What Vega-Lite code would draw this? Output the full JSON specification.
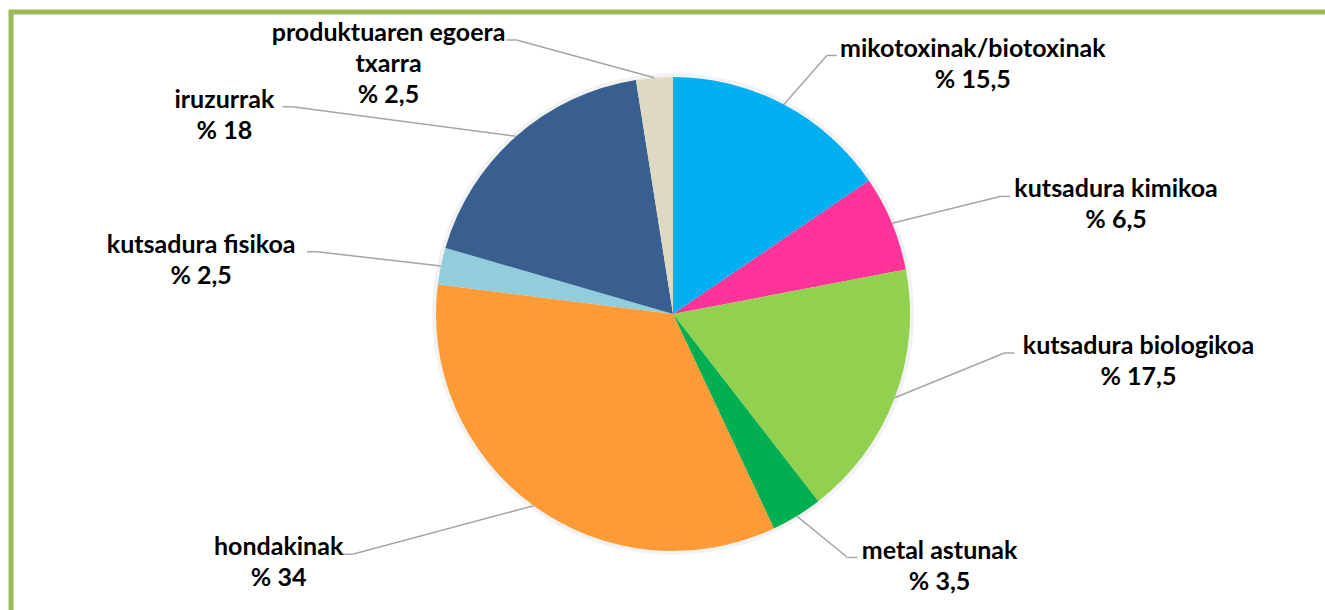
{
  "$schema": "https://vega.github.io/schema/vega-lite/v6.json",
  "width": 1324,
  "height": 604,
  "autosize": {"type": "none"},
  "padding": {"left": 11, "top": 12, "right": 0, "bottom": 0},
  "background": "white",
  "config": {"view": {"stroke": "#9BBB59", "strokeWidth": 5}},
  "data": {
    "values": [
      {"name": "mikotoxinak/biotoxinak", "value": 15.5, "order": 1},
      {"name": "kutsadura kimikoa", "value": 6.5, "order": 2},
      {"name": "kutsadura biologikoa", "value": 17.5, "order": 3},
      {"name": "metal astunak", "value": 3.5, "order": 4},
      {"name": "hondakinak", "value": 34, "order": 5},
      {"name": "kutsadura fisikoa", "value": 2.5, "order": 6},
      {"name": "iruzurrak", "value": 18, "order": 7},
      {"name": "produktuaren egoera\ntxarra", "value": 2.5, "order": 8}
    ]
  },
  "transform": [
    {"joinaggregate": [{"op": "sum", "field": "value", "as": "total"}]},
    {"window": [{"op": "sum", "field": "value", "as": "cum"}], "sort": [{"field": "order"}], "frame": [null, 0]},
    {"calculate": "2*PI*(datum.cum - datum.value/2)/datum.total", "as": "ang"},
    {"calculate": "sin(datum.ang)", "as": "s"},
    {"calculate": "cos(datum.ang)", "as": "c"},
    {"calculate": "datum.s < 0 ? -1 : 1", "as": "sg"},
    {"calculate": "abs(datum.s)", "as": "as"},
    {"calculate": "'% ' + replace(toString(datum.value), '.', ',')", "as": "pct"},
    {"calculate": "datum.name + '\\n' + datum.pct", "as": "txt"},
    {"calculate": "length(split(datum.txt, '\\n'))", "as": "nl"},
    {"calculate": "6*length(split(datum.name, '\\n')[0])", "as": "hw"},
    {"calculate": "datum.sg > 0 ? (380*datum.as - 10 + datum.hw) : -(227*datum.as + 121 + 100*datum.as*max(datum.c, 0) + 330*datum.as*(1 - datum.as) + datum.hw)", "as": "lx"},
    {"calculate": "datum.c >= 0 ? max(-(datum.sg > 0 ? 285 : 265)*datum.c, -250) : min(380*datum.c*datum.c, 252)", "as": "ly"},
    {"calculate": "datum.ly - (datum.nl - 1)*15.5", "as": "ty"},
    {"calculate": "datum.lx - datum.sg*(datum.hw + 4)", "as": "ex"},
    {"calculate": "datum.ty + 7", "as": "ey"},
    {"calculate": "datum.ex - datum.sg*10", "as": "bx"},
    {"calculate": "237*datum.s", "as": "px"},
    {"calculate": "-237*datum.c", "as": "py"}
  ],
  "layer": [
    {
      "mark": {"type": "arc", "outerRadius": 241, "fill": "#000000", "opacity": 0.05},
      "encoding": {
        "theta": {"field": "value", "type": "quantitative", "stack": true},
        "order": {"field": "order", "type": "quantitative"}
      }
    },
    {
      "mark": {"type": "arc", "outerRadius": 237},
      "encoding": {
        "theta": {"field": "value", "type": "quantitative", "stack": true},
        "order": {"field": "order", "type": "quantitative"},
        "color": {
          "field": "name",
          "type": "nominal",
          "legend": null,
          "scale": {
            "domain": ["mikotoxinak/biotoxinak", "kutsadura kimikoa", "kutsadura biologikoa", "metal astunak", "hondakinak", "kutsadura fisikoa", "iruzurrak", "produktuaren egoera\ntxarra"],
            "range": ["#00B0F0", "#FF3399", "#92D050", "#00B050", "#FF9B37", "#92CDDC", "#385F8F", "#DDD9C3"]
          }
        }
      }
    },
    {
      "mark": {"type": "rule", "color": "#A6A6A6", "strokeWidth": 1.5},
      "encoding": {
        "x": {"field": "px", "type": "quantitative", "scale": {"domain": [-662, 662], "nice": false, "zero": false}, "axis": null},
        "y": {"field": "py", "type": "quantitative", "scale": {"domain": [-302, 302], "reverse": true, "nice": false, "zero": false}, "axis": null},
        "x2": {"field": "bx"},
        "y2": {"field": "ey"}
      }
    },
    {
      "mark": {"type": "rule", "color": "#A6A6A6", "strokeWidth": 1.5},
      "encoding": {
        "x": {"field": "bx", "type": "quantitative"},
        "y": {"field": "ey", "type": "quantitative"},
        "x2": {"field": "ex"},
        "y2": {"field": "ey"}
      }
    },
    {
      "mark": {"type": "text", "font": "Lato", "fontWeight": "bold", "fontSize": 25, "lineHeight": 31, "lineBreak": "\n", "align": "center", "baseline": "middle", "color": "#000000"},
      "encoding": {
        "x": {"field": "lx", "type": "quantitative"},
        "y": {"field": "ty", "type": "quantitative"},
        "text": {"field": "txt"}
      }
    }
  ]
}
